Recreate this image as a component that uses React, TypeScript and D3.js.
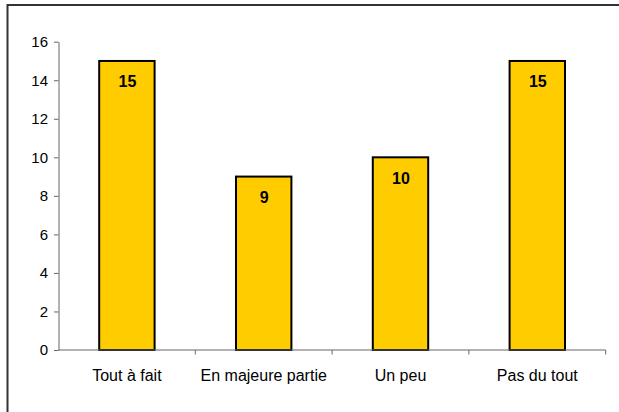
import React, { useEffect, useRef } from 'react';
import * as d3 from 'd3';

const categories = ["Tout à fait", "En majeure partie", "Un peu", "Pas du tout"];
const values = [15, 9, 10, 15];
const yTicks = [0, 2, 4, 6, 8, 10, 12, 14, 16];

function App() {
    const chartRef = useRef<SVGSVGElement>(null)

    const width = 619;
    const height = 412;
    const marginTop = 41.7;
    const marginLeft = 58.5;
    const axisRight = 605.7;
    const axisBottom = 350;

    useEffect(() => {
        const svg = d3.select(chartRef.current)
            .attr("width", width)
            .attr("height", height)
            .attr("viewBox", [0, 0, width, height])
            .style("font-family", "Arial, 'Liberation Sans', sans-serif")

        svg.selectAll("*").remove()

        // outer frame: only top and left edges are inside the picture
        svg.append("path")
            .attr("d", `M7.5,${height}V5H${width}`)
            .attr("fill", "none")
            .attr("stroke", "#333")
            .attr("stroke-width", 2)

        const x = d3.scaleBand()
            .domain(categories)
            .range([marginLeft, axisRight])
            .padding(0)

        const y = d3.scaleLinear()
            .domain([0, 16])
            .range([axisBottom, marginTop])

        const barWidth = x.bandwidth() * 0.405

        // bars
        svg.append("g")
            .selectAll("rect")
            .data(values)
            .join("rect")
            .attr("x", (d, i) => x(categories[i])! + (x.bandwidth() - barWidth) / 2)
            .attr("y", d => y(d))
            .attr("width", barWidth)
            .attr("height", d => y(0) - y(d))
            .attr("fill", "#FFCC00")
            .attr("stroke", "#000")
            .attr("stroke-width", 2)

        // value labels
        svg.append("g")
            .selectAll("text")
            .data(values)
            .join("text")
            .attr("x", (d, i) => x(categories[i])! + x.bandwidth() / 2 + 0.5)
            .attr("y", d => y(d) + 26.5)
            .attr("text-anchor", "middle")
            .attr("font-size", 16)
            .attr("font-weight", "bold")
            .attr("fill", "#000")
            .text(d => d)

        // y axis
        svg.append("g")
            .attr("transform", `translate(${marginLeft},0)`)
            .call(d3.axisLeft(y).tickValues(yTicks).tickSize(4.5).tickPadding(6).tickSizeOuter(0))
            .call(g => g.select(".domain").attr("stroke", "#666"))
            .call(g => g.selectAll(".tick line").attr("stroke", "#666"))
            .call(g => g.selectAll(".tick text")
                .attr("font-size", 15)
                .attr("font-family", "Arial, 'Liberation Sans', sans-serif")
                .attr("fill", "#000"))

        // x axis with ticks on category boundaries
        const xAxis = svg.append("g")
            .attr("transform", `translate(0,${axisBottom})`)

        xAxis.append("line")
            .attr("x1", marginLeft)
            .attr("x2", axisRight)
            .attr("stroke", "#666")

        xAxis.selectAll("line.cat-tick")
            .data(categories.slice(1).map(c => x(c)!).concat([axisRight]))
            .join("line")
            .attr("class", "cat-tick")
            .attr("x1", d => d)
            .attr("x2", d => d)
            .attr("y1", 0)
            .attr("y2", 4.5)
            .attr("stroke", "#666")

        xAxis.selectAll("text")
            .data(categories)
            .join("text")
            .attr("x", d => x(d)! + x.bandwidth() / 2)
            .attr("y", 31)
            .attr("text-anchor", "middle")
            .attr("font-size", 16)
            .attr("fill", "#000")
            .text(d => d)

    }, []);

    return (
        <div style={{ position: "absolute", left: 0, top: 0 }}>
            <svg ref={chartRef} style={{ display: "block" }}></svg>
        </div>
    );
}

export default App;
